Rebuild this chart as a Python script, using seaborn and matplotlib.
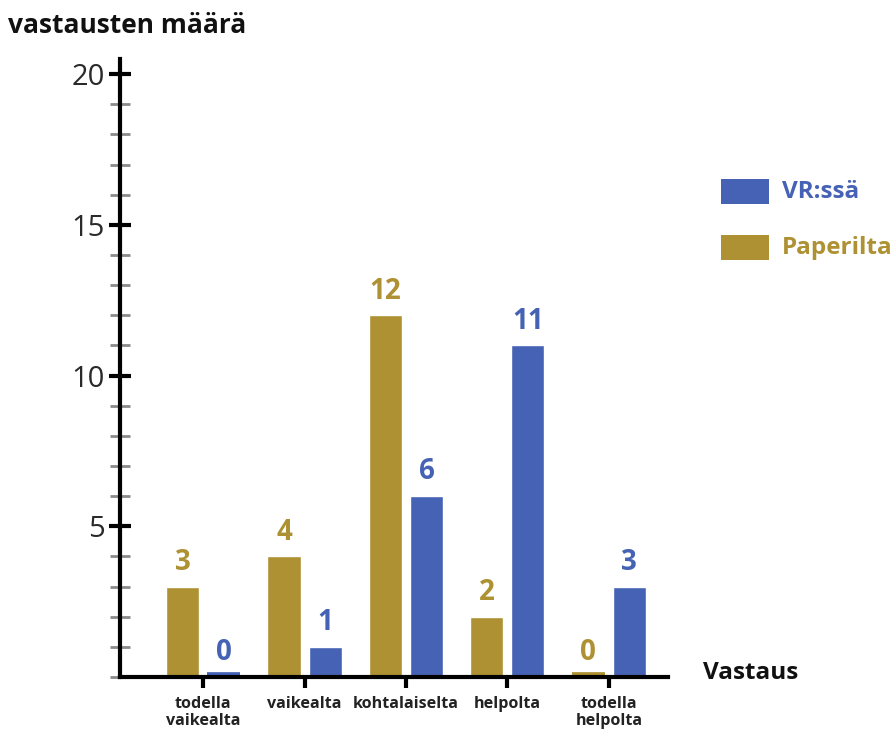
import matplotlib
matplotlib.use("Agg")
import matplotlib.pyplot as plt
from matplotlib.patches import Rectangle
from matplotlib.ticker import MultipleLocator
import seaborn as sns
import pandas as pd

# Survey answers: how hard the task felt, on paper vs. in VR
categories = ["todella\nvaikealta", "vaikealta", "kohtalaiselta", "helpolta", "todella\nhelpolta"]
paperilta = [3, 4, 12, 2, 0]
vr_ssa = [0, 1, 6, 11, 3]
series = ["Paperilta", "VR:ssä"]

gold = "#AE9133"
blue = "#4562B5"

df = pd.DataFrame({
    "Vastaus": categories * 2,
    "määrä": paperilta + vr_ssa,
    "sarja": [series[0]] * len(categories) + [series[1]] * len(categories),
})

sns.set_theme(style="white")
plt.rcParams["font.family"] = ["Open Sans", "DejaVu Sans"]

fig = plt.figure(figsize=(8.95, 7.4), dpi=100)
ax = fig.add_axes([0.134, 0.0851, 0.612, 0.835])

sns.barplot(data=df, x="Vastaus", y="määrä", hue="sarja", hue_order=series,
            order=categories, palette=[gold, blue], width=0.81, gap=0.195,
            saturation=1, legend=False, ax=ax)

ax.set_xlim(-0.82, 4.58)
ax.set_ylim(0, 20.5)

# value labels and thin stubs for zero answers
for cont, col in zip(ax.containers, [gold, blue]):
    ax.bar_label(cont, fontsize=20, fontweight="bold", color=col, padding=7)
    for p in cont.patches:
        if p.get_height() == 0:
            ax.hlines(0, p.get_x(), p.get_x() + p.get_width(), colors=col,
                      linewidth=7, capstyle="butt", zorder=2)

for s in ["top", "right"]:
    ax.spines[s].set_visible(False)
for s in ["left", "bottom"]:
    ax.spines[s].set_linewidth(3)
    ax.spines[s].set_color("black")
    ax.spines[s].set_zorder(5)

ax.yaxis.set_major_locator(MultipleLocator(5))
ax.yaxis.set_minor_locator(MultipleLocator(1))
ax.set_yticks([5, 10, 15, 20])
ax.tick_params(axis="y", which="major", direction="inout", length=16, width=3,
               color="black", labelsize=21, labelcolor="#2a2a2a", pad=3, left=True)
ax.tick_params(axis="y", which="minor", direction="inout", length=15, width=2,
               color="#8a8a8a", left=True)
ax.tick_params(axis="x", which="major", direction="out", length=8, width=3,
               color="black", labelsize=11.6, labelcolor="#222222", pad=6, bottom=True)
for lab in ax.get_xticklabels():
    lab.set_fontweight("bold")
    lab.set_linespacing(1.05)

ax.set_xlabel("")
ax.set_ylabel("")

fig.text(0.009, 0.966, "vastausten määrä", fontsize=19, fontweight="bold",
         color="#111111", ha="left", va="center")
fig.text(0.785, 0.0905, "Vastaus", fontsize=17.5, fontweight="bold",
         color="#111111", ha="left", va="center")

# legend swatches
for y0, col, name in [(0.724, blue, "VR:ssä"), (0.648, gold, "Paperilta")]:
    fig.patches.append(Rectangle((0.806, y0), 0.053, 0.034, transform=fig.transFigure,
                                 facecolor=col, edgecolor="none"))
    fig.text(0.874, y0 + 0.017, name, fontsize=17.5, fontweight="bold", color=col,
             ha="left", va="center")

fig.savefig("out.png", dpi=100)
